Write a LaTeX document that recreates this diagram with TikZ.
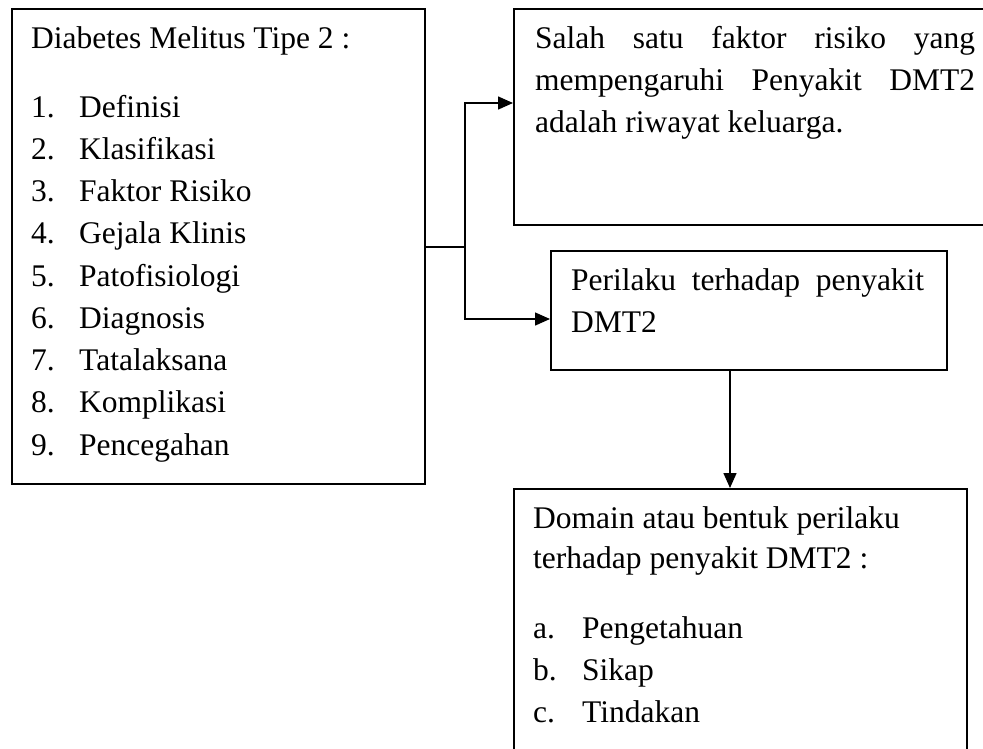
\documentclass[tikz,border=0pt]{standalone}
\usepackage{fontspec}
\setmainfont{Liberation Serif}
\usetikzlibrary{arrows.meta}
\begin{document}
\begin{tikzpicture}[x=1pt,y=-1pt,
  box/.style={draw, line width=1.5pt, rectangle, inner sep=0pt, anchor=north west},
  txt/.style={anchor=base west, inner sep=0pt, font=\fontsize{31.5}{42}\selectfont},
  ln/.style={line width=1.5pt},
  arr/.style={line width=1.5pt, -{Triangle[length=15pt,width=13pt]}}]
\useasboundingbox (0,0) rectangle (983,748);
\clip (0,0) rectangle (983,748);
% boxes
\node[box, minimum width=413pt, minimum height=475pt] (L) at (11,8) {};
\node[box, minimum width=490pt, minimum height=216pt] (T) at (513,8) {};
\node[box, minimum width=396pt, minimum height=119pt] (B) at (550,250) {};
\node[box, minimum width=453pt, minimum height=300pt] (D) at (513,488) {};
% left box text
\node[txt] (l0) at (31,48) {Diabetes Melitus Tipe 2 :};
\foreach \i/\t in {1/Definisi,2/Klasifikasi,3/Faktor Risiko,4/Gejala Klinis,5/Patofisiologi,6/Diagnosis,7/Tatalaksana,8/Komplikasi,9/Pencegahan}{
  \node[txt] (n\i) at (31,{117+42.25*(\i-1)}) {\i.};
  \node[txt] (t\i) at (79,{117+42.25*(\i-1)}) {\t};
}
% top box text
\node[txt] (s1) at (535,48) {\makebox[440pt][s]{Salah satu faktor risiko yang}};
\node[txt] (s2) at (535,90) {\makebox[440pt][s]{mempengaruhi Penyakit DMT2}};
\node[txt] (s3) at (535,132) {adalah riwayat keluarga.};
% middle box text
\node[txt] (p1) at (571,290) {\makebox[353pt][s]{Perilaku terhadap penyakit}};
\node[txt] (p2) at (571,332) {DMT2};
% bottom box text
\node[txt] (d1) at (533,528) {Domain atau bentuk perilaku};
\node[txt] (d2) at (533,568) {terhadap penyakit DMT2 :};
\node[txt] (da) at (533,638) {a.};
\node[txt] (db) at (533,680) {b.};
\node[txt] (dc) at (533,722) {c.};
\node[txt] (ea) at (582,638) {Pengetahuan};
\node[txt] (eb) at (582,680) {Sikap};
\node[txt] (ec) at (582,722) {Tindakan};
% connectors
\coordinate (j) at (465,247);
\coordinate (y1) at (0,103);
\coordinate (y2) at (0,319);
\coordinate (xv) at (730,0);
\draw[ln] (L.east |- j) -- (j);
\draw[arr] (j) |- (T.west |- y1);
\draw[arr] (j) |- (B.west |- y2);
\draw[arr] (B.south -| xv) -- (D.north -| xv);
\end{tikzpicture}
\end{document}
